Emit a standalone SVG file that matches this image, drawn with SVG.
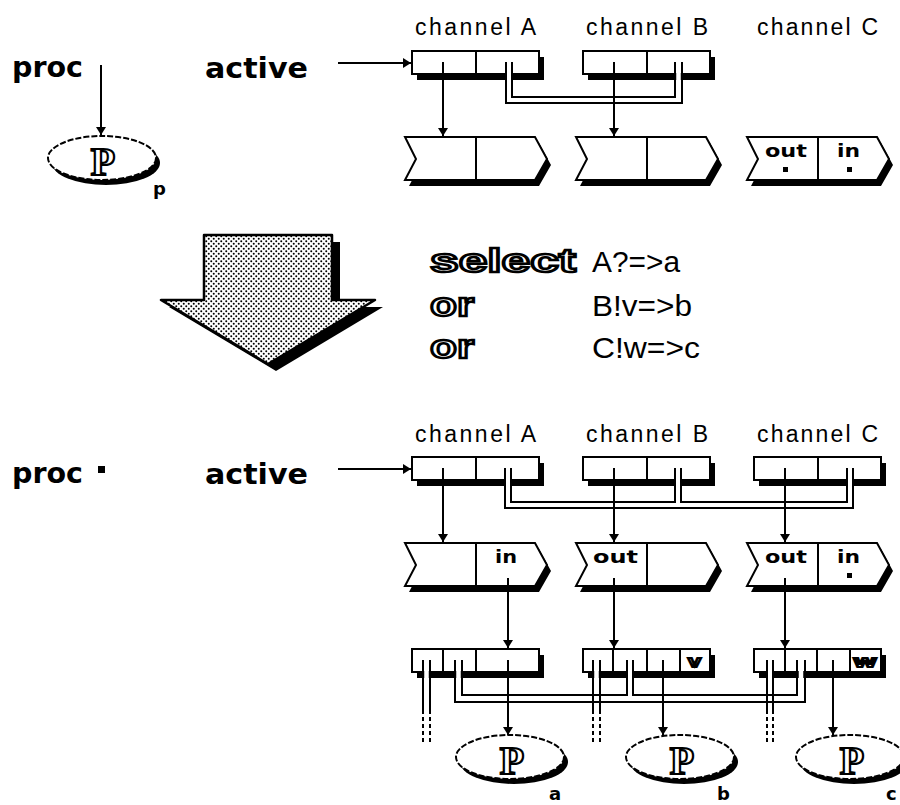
<svg xmlns="http://www.w3.org/2000/svg" width="900" height="805" viewBox="0 0 900 805">
<style>
.lbl{font-family:"Liberation Sans",Arial,sans-serif;font-size:23px;fill:#000}
.bold{font-family:"DejaVu Sans",sans-serif;font-weight:bold;font-size:28px;fill:#000}
.sm{font-family:"DejaVu Sans",sans-serif;font-weight:bold;font-size:18px;fill:#000}
.outl{font-family:"Liberation Sans",Arial,sans-serif;font-weight:bold;font-size:34px;fill:#fff;stroke:#000;stroke-width:2.5}
.var{font-family:"Liberation Sans",Arial,sans-serif;font-weight:bold;font-size:17px;fill:#fff;stroke:#000;stroke-width:2}
.expr{font-family:"Liberation Sans",Arial,sans-serif;font-size:30px;fill:#000}
.pg{font-family:"Liberation Serif","Times New Roman",serif;font-weight:bold;font-size:40px;fill:#fff;stroke:#000;stroke-width:2.2;text-anchor:middle}
.box{fill:#fff;stroke:#000;stroke-width:2}
.sh{fill:#000}
.ln{stroke:#000;stroke-width:2;fill:none}
.gap{stroke:#fff;stroke-width:4.5;fill:none}
.dash{stroke:#000;stroke-width:2;fill:none;stroke-dasharray:4 3}
.ell{fill:#fff;stroke:#000;stroke-width:2;stroke-dasharray:6 2}
.arr{marker-end:url(#ah)}
</style>
<defs>
<marker id="ah" markerWidth="8" markerHeight="10" refX="8" refY="5" orient="auto" markerUnits="userSpaceOnUse">
<path d="M0,0 L8,5 L0,10 z" fill="#000"/>
</marker>
<pattern id="dots" width="5" height="5" patternUnits="userSpaceOnUse">
<rect width="5" height="5" fill="#fff"/>
<circle cx="1.25" cy="1.25" r="1" fill="#000"/>
<circle cx="3.75" cy="3.75" r="1" fill="#000"/>
</pattern>
<rect id="boxShape" width="127" height="23"/>
<polygon id="chev" points="0,0 130,0 142,22 130,43 0,43 11,22"/>
<ellipse id="ellShape" rx="54" ry="22"/>
</defs>
<rect width="900" height="805" fill="#fff"/>

<!-- ===== upper section ===== -->
<g id="proc-top"><text class="bold" x="12" y="77" textLength="71" lengthAdjust="spacingAndGlyphs">proc</text></g>
<g id="active-top"><text class="bold" x="205" y="78" textLength="103" lengthAdjust="spacingAndGlyphs">active</text></g>

<g id="proc-p">
<use href="#ellShape" x="106" y="163" class="sh"/>
<use href="#ellShape" x="102" y="158" class="ell"/>
<text class="pg" x="103" y="175">P</text>
<text class="sm" x="153" y="195" font-size="20">p</text>
</g>

<g id="labels-top">
<text class="lbl" x="415" y="35" textLength="121" lengthAdjust="spacing">channel A</text>
<text class="lbl" x="586" y="35" textLength="122" lengthAdjust="spacing">channel B</text>
<text class="lbl" x="757" y="35" textLength="121" lengthAdjust="spacing">channel C</text>
</g>

<g id="active-box-A-top">
<use href="#boxShape" x="417" y="57" class="sh"/>
<use href="#boxShape" x="412" y="51" class="box"/>
<line class="ln" x1="476" y1="51" x2="476" y2="74"/>
</g>
<g id="active-box-B-top">
<use href="#boxShape" x="588" y="57" class="sh"/>
<use href="#boxShape" x="583" y="51" class="box"/>
<line class="ln" x1="647" y1="51" x2="647" y2="74"/>
</g>

<g id="chan-A-top">
<use href="#chev" x="409" y="143" class="sh"/>
<use href="#chev" x="405" y="137" class="box"/>
<line class="ln" x1="476" y1="137" x2="476" y2="180"/>
</g>
<g id="chan-B-top">
<use href="#chev" x="580" y="143" class="sh"/>
<use href="#chev" x="576" y="137" class="box"/>
<line class="ln" x1="647" y1="137" x2="647" y2="180"/>
</g>
<g id="chan-C-top">
<use href="#chev" x="751" y="143" class="sh"/>
<use href="#chev" x="747" y="137" class="box"/>
<line class="ln" x1="818" y1="137" x2="818" y2="180"/>
<text class="sm" x="765" y="157" textLength="42" lengthAdjust="spacingAndGlyphs">out</text>
<rect x="783" y="167" width="5" height="5"/>
<text class="sm" x="837" y="157" textLength="23" lengthAdjust="spacingAndGlyphs">in</text>
<rect x="847" y="167" width="5" height="5"/>
</g>

<!-- ===== middle ===== -->
<g id="big-arrow">
<polygon points="204,235 332,235 332,300 375,300 268,364 161,300 204,300" class="sh" transform="translate(8,7)"/>
<polygon points="204,235 332,235 332,300 375,300 268,364 161,300 204,300" fill="url(#dots)" stroke="#000" stroke-width="2.5" stroke-linejoin="round"/>
</g>
<g id="select-text">
<text class="outl" x="430" y="272" textLength="146" lengthAdjust="spacingAndGlyphs">select</text>
<text class="expr" x="592" y="272" textLength="88" lengthAdjust="spacingAndGlyphs">A?=&gt;a</text>
<text class="outl" x="430" y="316" textLength="44" lengthAdjust="spacingAndGlyphs">or</text>
<text class="expr" x="592" y="316" textLength="100" lengthAdjust="spacingAndGlyphs">B!v=&gt;b</text>
<text class="outl" x="430" y="358" textLength="44" lengthAdjust="spacingAndGlyphs">or</text>
<text class="expr" x="592" y="358" textLength="108" lengthAdjust="spacingAndGlyphs">C!w=&gt;c</text>
</g>

<!-- ===== lower section ===== -->
<g id="proc-bottom">
<text class="bold" x="12" y="483" textLength="71" lengthAdjust="spacingAndGlyphs">proc</text>
<rect x="98" y="466" width="7" height="7"/>
</g>
<g id="active-bottom"><text class="bold" x="205" y="484" textLength="103" lengthAdjust="spacingAndGlyphs">active</text></g>

<g id="labels-bottom">
<text class="lbl" x="415" y="442" textLength="121" lengthAdjust="spacing">channel A</text>
<text class="lbl" x="586" y="442" textLength="122" lengthAdjust="spacing">channel B</text>
<text class="lbl" x="757" y="442" textLength="121" lengthAdjust="spacing">channel C</text>
</g>

<g id="active-box-A">
<use href="#boxShape" x="417" y="463" class="sh"/>
<use href="#boxShape" x="412" y="457" class="box"/>
<line class="ln" x1="476" y1="457" x2="476" y2="480"/>
</g>
<g id="active-box-B">
<use href="#boxShape" x="588" y="463" class="sh"/>
<use href="#boxShape" x="583" y="457" class="box"/>
<line class="ln" x1="647" y1="457" x2="647" y2="480"/>
</g>
<g id="active-box-C">
<use href="#boxShape" x="759" y="463" class="sh"/>
<use href="#boxShape" x="754" y="457" class="box"/>
<line class="ln" x1="818" y1="457" x2="818" y2="480"/>
</g>

<g id="chan-A">
<use href="#chev" x="409" y="549" class="sh"/>
<use href="#chev" x="405" y="543" class="box"/>
<line class="ln" x1="476" y1="543" x2="476" y2="586"/>
<text class="sm" x="495" y="563" textLength="22" lengthAdjust="spacingAndGlyphs">in</text>
</g>
<g id="chan-B">
<use href="#chev" x="580" y="549" class="sh"/>
<use href="#chev" x="576" y="543" class="box"/>
<line class="ln" x1="647" y1="543" x2="647" y2="586"/>
<text class="sm" x="593" y="563" textLength="45" lengthAdjust="spacingAndGlyphs">out</text>
</g>
<g id="chan-C">
<use href="#chev" x="751" y="549" class="sh"/>
<use href="#chev" x="747" y="543" class="box"/>
<line class="ln" x1="818" y1="543" x2="818" y2="586"/>
<text class="sm" x="765" y="563" textLength="42" lengthAdjust="spacingAndGlyphs">out</text>
<text class="sm" x="837" y="563" textLength="23" lengthAdjust="spacingAndGlyphs">in</text>
<rect x="847" y="573" width="5" height="5"/>
</g>

<g id="wait-box-A">
<use href="#boxShape" x="417" y="655" class="sh"/>
<use href="#boxShape" x="412" y="649" class="box"/>
<line class="ln" x1="443" y1="649" x2="443" y2="672"/>
<line class="ln" x1="476" y1="649" x2="476" y2="672"/>
</g>
<g id="wait-box-B">
<use href="#boxShape" x="588" y="655" class="sh"/>
<use href="#boxShape" x="583" y="649" class="box"/>
<line class="ln" x1="613" y1="649" x2="613" y2="672"/>
<line class="ln" x1="647" y1="649" x2="647" y2="672"/>
<line class="ln" x1="680" y1="649" x2="680" y2="672"/>
<text class="var" x="688" y="667" textLength="13" lengthAdjust="spacingAndGlyphs">v</text>
</g>
<g id="wait-box-C">
<use href="#boxShape" x="759" y="655" class="sh"/>
<use href="#boxShape" x="754" y="649" class="box"/>
<line class="ln" x1="785" y1="649" x2="785" y2="672"/>
<line class="ln" x1="817" y1="649" x2="817" y2="672"/>
<line class="ln" x1="850" y1="649" x2="850" y2="672"/>
<text class="var" x="854" y="667" textLength="22" lengthAdjust="spacingAndGlyphs">w</text>
</g>

<g id="proc-a">
<use href="#ellShape" x="514" y="762" class="sh"/>
<use href="#ellShape" x="510" y="757" class="ell"/>
<text class="pg" x="512" y="774">P</text>
<text class="sm" x="549" y="800" font-size="20">a</text>
</g>
<g id="proc-b">
<use href="#ellShape" x="684" y="762" class="sh"/>
<use href="#ellShape" x="680" y="757" class="ell"/>
<text class="pg" x="682" y="774">P</text>
<text class="sm" x="717" y="800" font-size="20">b</text>
</g>
<g id="proc-c">
<use href="#ellShape" x="854" y="762" class="sh"/>
<use href="#ellShape" x="850" y="757" class="ell"/>
<text class="pg" x="852" y="774">P</text>
<text class="sm" x="886" y="800" font-size="20">c</text>
</g>

<!-- ===== connectors ===== -->
<g id="connectors">
<line class="ln arr" x1="101" y1="65" x2="101" y2="135"/>
<line class="ln arr" x1="338" y1="63" x2="411" y2="63"/>
<path class="gap" d="M509,62 V100 H678.5 V62"/>
<path class="ln" d="M506,62 V103 H682 V62"/>
<path class="ln" d="M512,62 V97 H675 V62"/>
<line class="ln arr" x1="443" y1="62" x2="443" y2="136"/>
<line class="ln arr" x1="614" y1="62" x2="614" y2="136"/>

<line class="ln arr" x1="338" y1="469" x2="411" y2="469"/>
<path class="gap" d="M508,468 V505 H850 V468 M678,468 V505"/>
<path class="ln" d="M505,468 V508 H853 V468"/>
<path class="ln" d="M511,468 V502 H675 V468"/>
<path class="ln" d="M681,468 V502 H847 V468"/>
<line class="ln arr" x1="443" y1="468" x2="443" y2="542"/>
<line class="ln arr" x1="614" y1="468" x2="614" y2="542"/>
<line class="ln arr" x1="785" y1="468" x2="785" y2="542"/>

<line class="ln arr" x1="508" y1="578" x2="508" y2="648"/>
<line class="ln arr" x1="614" y1="578" x2="614" y2="648"/>
<line class="ln arr" x1="785" y1="578" x2="785" y2="648"/>

<path class="gap" d="M426.5,660 V714 M596.5,660 V714 M770,660 V714 M458.5,660 V698.5 H801 V660 M630,660 V698.5"/>
<path class="ln" d="M423,660 V714 M430,660 V714 M593,660 V714 M600,660 V714 M767,660 V714 M773,660 V714"/>
<path class="dash" d="M423,717 V742 M430,717 V742 M593,717 V742 M600,717 V742 M767,717 V742 M773,717 V742"/>
<path class="ln" d="M455,660 V702 H805 V660"/>
<path class="ln" d="M462,660 V695 H627 V660"/>
<path class="ln" d="M633,660 V695 H797 V660"/>
<line class="ln arr" x1="508" y1="660" x2="508" y2="735"/>
<line class="ln arr" x1="663" y1="660" x2="663" y2="735"/>
<line class="ln arr" x1="833" y1="660" x2="833" y2="735"/>
</g>
</svg>
